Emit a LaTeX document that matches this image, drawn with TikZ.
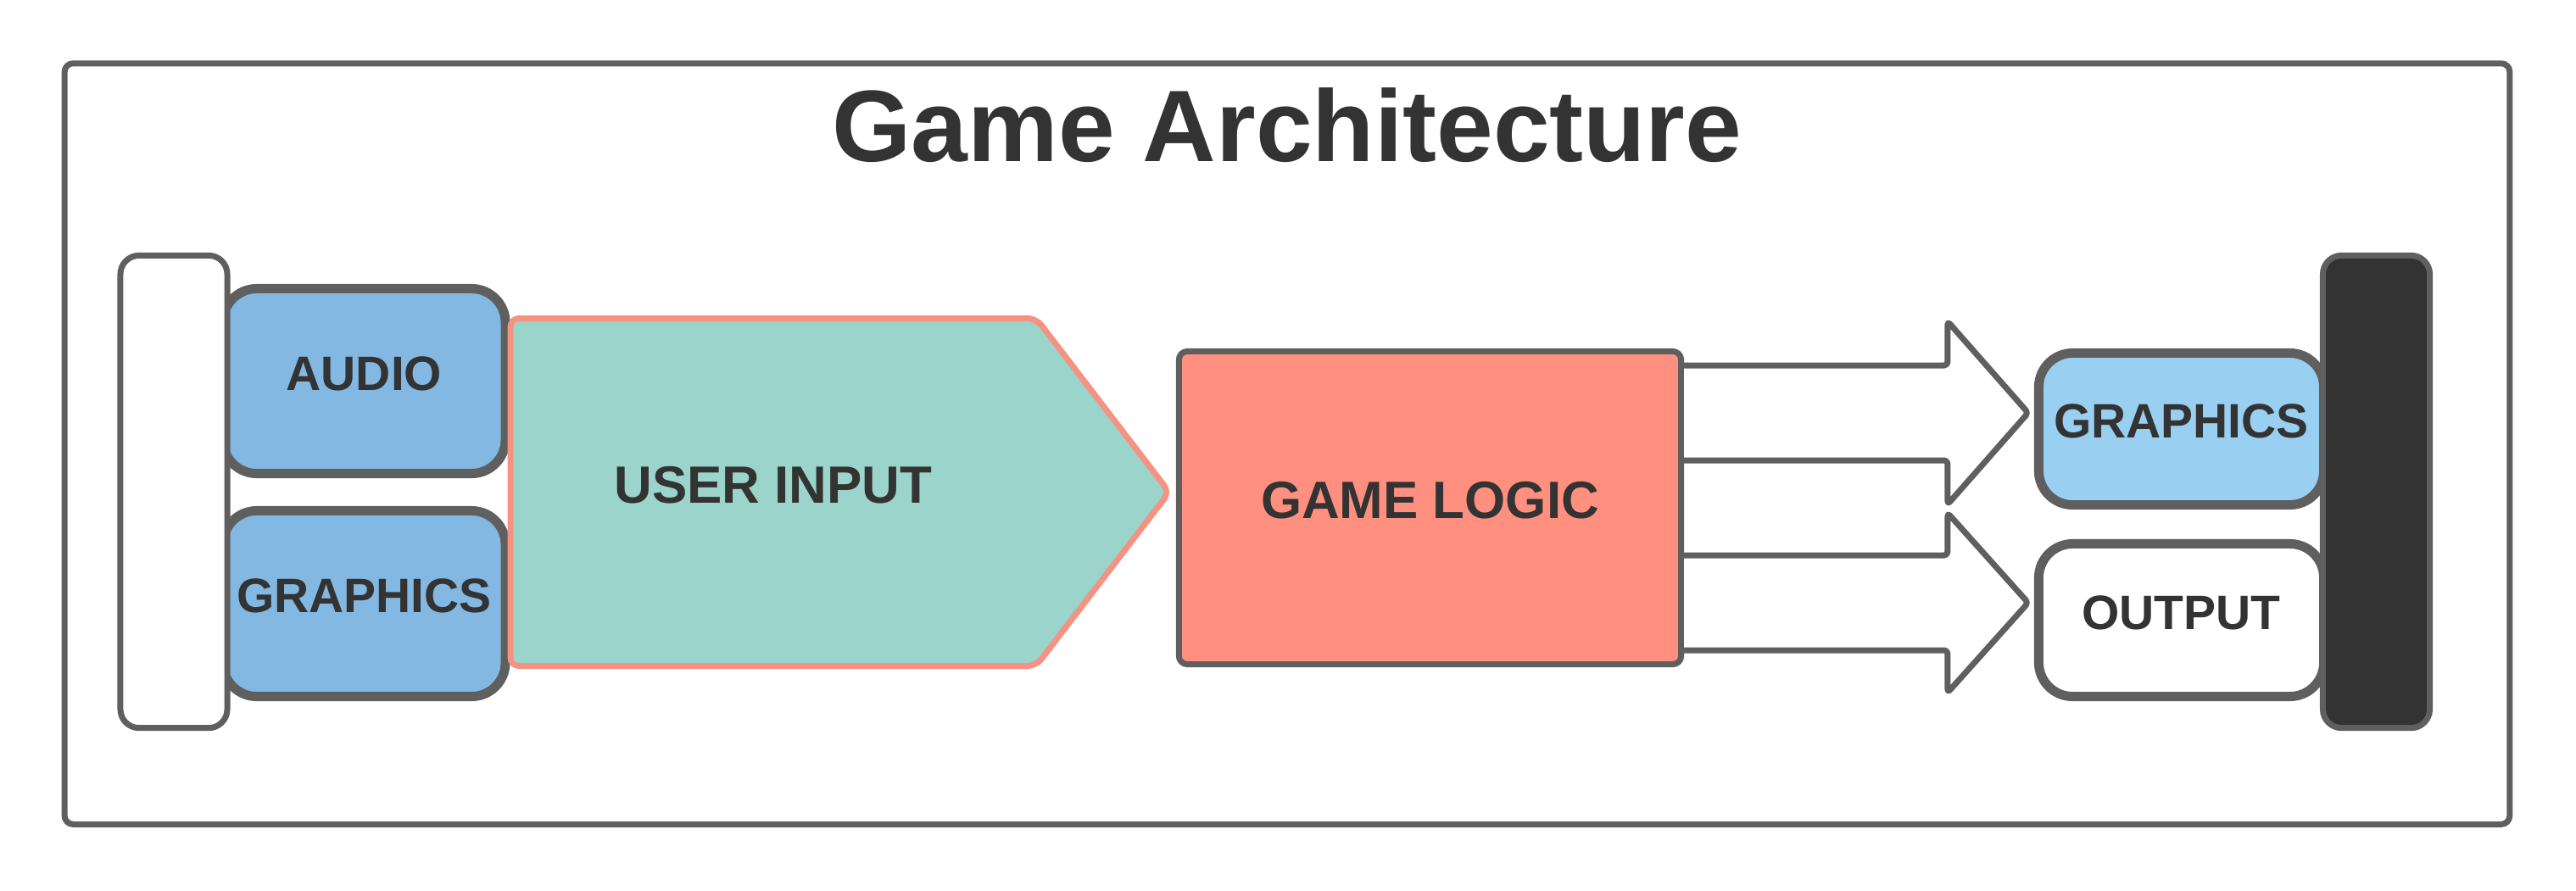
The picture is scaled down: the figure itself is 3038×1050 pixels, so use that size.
\documentclass[tikz,border=0pt]{standalone}
\usepackage{fontspec}
\setmainfont{Liberation Sans}
\usetikzlibrary{calc}
\definecolor{edge}{HTML}{5F5F5F}
\definecolor{txt}{HTML}{333333}
\definecolor{blueL}{HTML}{83B8E3}
\definecolor{blueR}{HTML}{99CFF0}
\definecolor{uiteal}{HTML}{9AD4CA}
\definecolor{salmonfill}{HTML}{FF8F7E}
\definecolor{salmonline}{HTML}{F59282}
\definecolor{darkbar}{HTML}{333333}
\begin{document}
\begin{tikzpicture}[x=0.01cm,y=-0.01cm,
  lwA/.style={line width=0.07cm},
  lwB/.style={line width=0.11cm},
  lbl/.style={text=txt,font=\fontsize{16.2}{19}\selectfont\bfseries,text depth=0.18cm,inner sep=0pt},
  biglbl/.style={lbl,font=\fontsize{17.6}{21}\selectfont\bfseries},
  sidebox/.style={lwB,draw=edge,rounded corners=0.4cm,lbl},
  barbox/.style={lwA,draw=edge,rounded corners=0.22cm,minimum width=1.26cm,minimum height=5.57cm},
  blockarrow/.style={lwA,draw=edge,fill=white,line join=round,rounded corners=0.04cm}
]
\useasboundingbox (0,0) rectangle (3038,1050);

% outer frame and title
\node[lwA,draw=edge,rounded corners=0.1cm,minimum width=28.82cm,minimum height=8.97cm] (frame) at (1518,523.5) {};
\node[anchor=base,text=txt,font=\fontsize{34.1}{40}\selectfont\bfseries,inner sep=0pt] (title) at (1518,190) {Game Architecture};

% input side
\node[sidebox,fill=blueL,minimum width=3.33cm,minimum height=2.18cm] (audio) at (429.5,449.5) {AUDIO};
\node[sidebox,fill=blueL,minimum width=3.33cm,minimum height=2.19cm] (gfxL) at (429.5,712) {GRAPHICS};
\node[barbox,fill=white] (inbar) at (205,580) {};

% user input pentagon
\draw[lwA,draw=salmonline,fill=uiteal,rounded corners=0.1cm,line join=round]
  (602,375.5) -- (1222,375.5) -- (1379,580.5) -- (1222,785.5) -- (602,785.5) -- cycle;
\node[biglbl] (ui) at (912,581) {USER INPUT};

% game logic
\node[lwA,draw=edge,fill=salmonfill,rounded corners=0.1cm,minimum width=5.92cm,minimum height=3.69cm,biglbl] (gl) at (1686.5,599) {GAME LOGIC};

% output side boxes
\node[sidebox,fill=blueR,minimum width=3.36cm,minimum height=1.79cm] (gfxR) at (2572.5,506) {GRAPHICS};
\node[sidebox,fill=white,minimum width=3.36cm,minimum height=1.80cm] (out) at (2572.5,731.5) {OUTPUT};

% block arrows
\coordinate (ua) at ($(gl.east)+(0,-112)$);
\coordinate (ut) at ($(gfxR.west |- ua)+(-7,0)$);
\coordinate (la) at ($(gl.east)+(0,112)$);
\coordinate (lt) at ($(out.west |- la)+(-7,0)$);
\draw[blockarrow] ($(ua)+(0,-56)$) -| ($(ut)+(-95,-108)$) -- (ut) -- ($(ut)+(-95,108)$) |- ($(ua)+(0,56)$);
\draw[blockarrow] ($(la)+(0,-56)$) -| ($(lt)+(-95,-106)$) -- (lt) -- ($(lt)+(-95,106)$) |- ($(la)+(0,56)$);

% output bar
\node[barbox,fill=darkbar] (outbar) at (2802.5,580) {};
\end{tikzpicture}
\end{document}
